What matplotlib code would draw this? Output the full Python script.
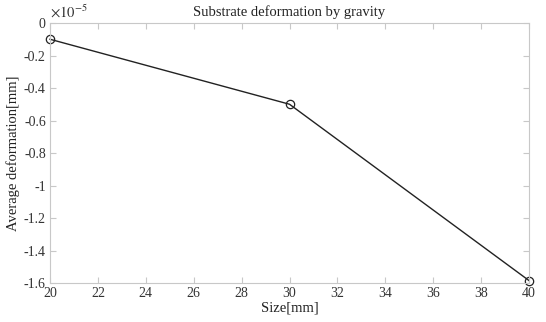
import numpy as np
import matplotlib.pyplot as plt

plt.rcParams['font.family'] = ['Liberation Serif', 'DejaVu Serif']
plt.rcParams['mathtext.fontset'] = 'stix'

size_mm = [20, 30, 40]
deform = [-0.1e-5, -0.5e-5, -1.585e-5]

fig = plt.figure(figsize=(5.46, 3.22), dpi=100)
ax = fig.add_axes([50 / 546, 1 - 283 / 322, 479 / 546, 260 / 322])

ax.plot(size_mm, np.array(deform) / 1e-5, color='#222222', lw=1.0,
        marker='o', ms=6, mfc='none', mec='#222222', mew=0.9, clip_on=False)

ax.set_xlim(20, 40)
ax.set_ylim(-1.6, 0)
ax.set_xticks(np.arange(20, 41, 2))
ax.set_yticks(np.arange(-1.6, 0.01, 0.2))
ax.set_yticklabels(['-1.6', '-1.4', '-1.2', '-1', '-0.8', '-0.6', '-0.4', '-0.2', '0'])

for sp in ax.spines.values():
    sp.set_color('#c8c8c8')
    sp.set_linewidth(0.8)
ax.tick_params(direction='in', color='#c8c8c8', labelsize=10, labelcolor='#333333',
               top=True, right=True, length=4, pad=3)

ax.set_title('Substrate deformation by gravity', fontsize=10.5, color='#222222', pad=5)
ax.set_xlabel('Size[mm]', fontsize=10.5, color='#222222', labelpad=1)
ax.set_ylabel('Average deformation[mm]', fontsize=10.5, color='#222222', labelpad=3)
ax.text(0.0, 1.01, r'$\times10^{-5}$', transform=ax.transAxes, fontsize=10.5,
        color='#333333', ha='left', va='bottom')

fig.savefig('out.png', dpi=100)
